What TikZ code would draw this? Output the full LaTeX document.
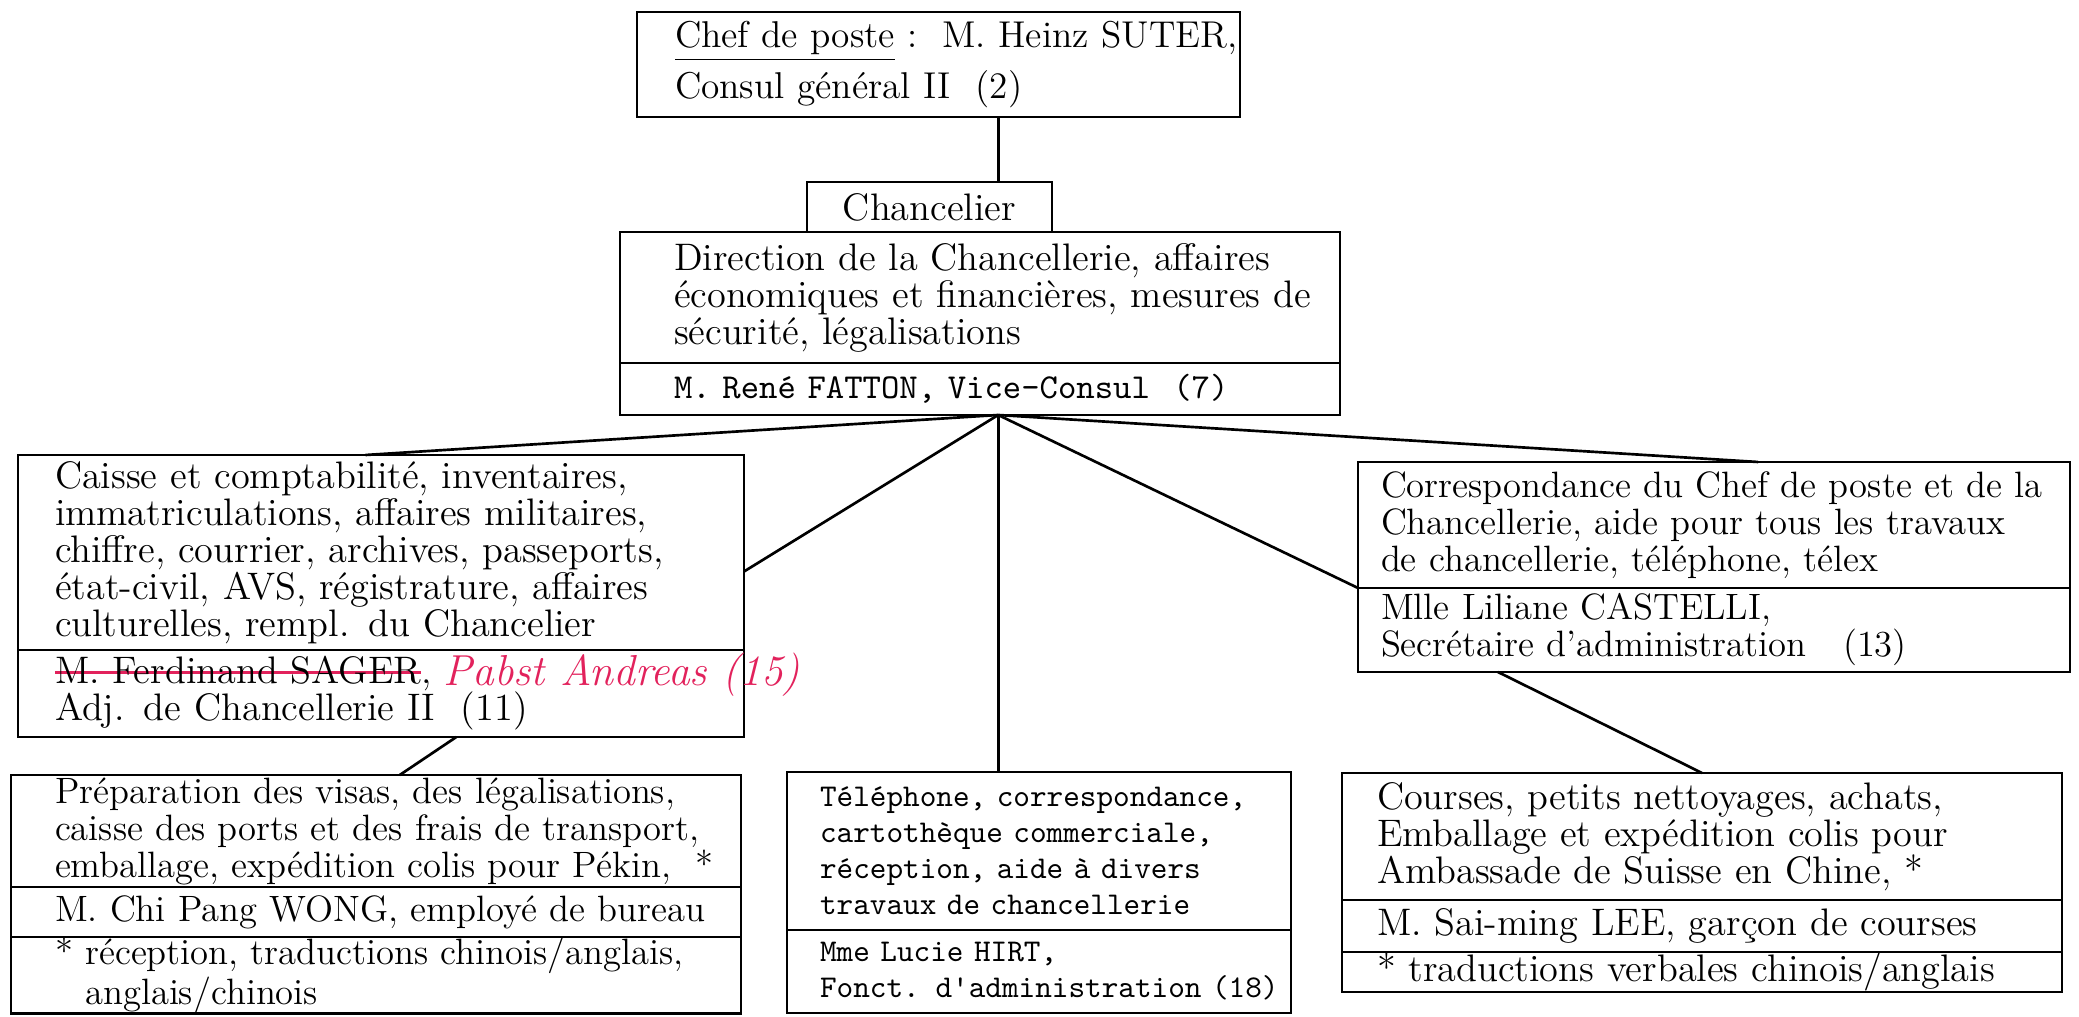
\documentclass[tikz,border=0pt]{standalone}
\usepackage{xcolor}
\usepackage{tikz}
\usetikzlibrary{positioning}

\definecolor{penred}{RGB}{226,34,92}
\newlength{\strikelen}
\newcommand{\strikered}[1]{\settowidth{\strikelen}{#1}\rlap{\textcolor{penred}{\rule[0.6ex]{\strikelen}{0.8pt}}}#1}

\begin{document}
\begin{tikzpicture}[x=0.3pt, y=-0.3pt, node distance=0pt,
    box/.style={draw, line width=0.8pt, outer sep=0pt, inner xsep=0pt, inner ysep=0pt,
        align=left, font=\fontsize{11.5}{11.1}\selectfont},
    small/.style={font=\fontsize{11}{11.1}\selectfont},
    textpad/.style={execute at begin node={\leftskip=#1\rightskip=0pt plus 1fil minus 200pt\relax}},
    typed/.style={box, font=\fontsize{9.5}{10.8}\selectfont\ttfamily},
    link/.style={line width=0.8pt}]
    \useasboundingbox (0,0) rectangle (2079,1017);

    % Nodes
    \node[box, font=\fontsize{11.2}{11.1}\selectfont, textpad=11.4pt, text width=180.9pt, minimum height=31.5pt, anchor=north west] (chef) at (637,12)
        {\underline{Chef de poste}\ :\ \ M. Heinz SUTER,\\[1.5pt] Consul général II\ \ (2)};
    \node[box, align=center, minimum width=73.5pt, minimum height=15pt, anchor=north west] (chancelier) at (807,182)
        {Chancelier};
    \node[box, textpad=16.2pt, text width=216pt, minimum height=39.3pt, anchor=north west] (dirdesc) at (620,232)
        {Direction de la Chancellerie, affaires\\ économiques et financières, mesures de\\ sécurité, légalisations};
    \node[typed, font=\fontsize{10.5}{11}\selectfont\ttfamily, textpad=16.2pt, text width=216pt, minimum height=15.6pt, below=of dirdesc] (dirname)
        {M. René FATTON, Vice-Consul\ \ (7)};

    \node[box, textpad=11.1pt, text width=217.8pt, minimum height=58.5pt, anchor=north west] (leftdesc) at (18,455)
        {Caisse et comptabilité, inventaires,\\ immatriculations, affaires militaires,\\ chiffre, courrier, archives, passeports,\\ état-civil, AVS, régistrature, affaires\\ culturelles, rempl. du Chancelier};
    \node[box, textpad=11.1pt, text width=217.8pt, minimum height=26.1pt, below=of leftdesc] (leftname)
        {\strikered{M. Ferdinand SAGER},\\ Adj. de Chancellerie II\ \ (11)};
    \node[text=penred, font=\fontsize{13}{13}\selectfont\itshape] (pabst) at (622,675) {Pabst Andreas (15)};

    \node[box, small, textpad=13.2pt, text width=219pt, minimum height=33.6pt, anchor=north west] (bldesc) at (11,775)
        {Préparation des visas, des légalisations,\\ caisse des ports et des frais de transport,\\ emballage, expédition colis pour Pékin,\ \ *};
    \node[box, small, textpad=13.2pt, text width=219pt, minimum height=15pt, below=of bldesc] (blname)
        {M. Chi Pang WONG, employé de bureau};
    \node[box, font=\fontsize{11}{9.6}\selectfont, textpad=13.2pt, text width=219pt, minimum height=19.8pt, below=of blname] (blfoot)
        {* réception, traductions chinois/anglais,\\ \phantom{*} anglais/chinois};

    \node[typed, textpad=9.9pt, text width=151.2pt, minimum height=47.4pt, anchor=north west] (middesc) at (787,772)
        {Téléphone, correspondance,\\ cartothèque commerciale,\\ réception, aide à divers\\ travaux de chancellerie};
    \node[typed, textpad=9.9pt, text width=151.2pt, minimum height=24.9pt, below=of middesc] (midname)
        {Mme Lucie HIRT,\\ Fonct. d'administration (18)};

    \node[box, small, textpad=6.9pt, text width=213.6pt, minimum height=37.8pt, anchor=north west] (rightdesc) at (1358,462)
        {Correspondance du Chef de poste et de la\\ Chancellerie, aide pour tous les travaux\\ de chancellerie, téléphone, télex};
    \node[box, small, textpad=6.9pt, text width=213.6pt, minimum height=25.2pt, below=of rightdesc] (rightname)
        {Mlle Liliane CASTELLI,\\ Secrétaire d'administration\ \ \ (13)};

    \node[box, textpad=10.5pt, text width=216pt, minimum height=38.1pt, anchor=north west] (brdesc) at (1342,773)
        {Courses, petits nettoyages, achats,\\ Emballage et expédition colis pour\\ Ambassade de Suisse en Chine,\ *};
    \node[box, textpad=10.5pt, text width=216pt, minimum height=15.6pt, below=of brdesc] (brname)
        {M. Sai-ming LEE, garçon de courses};
    \node[box, textpad=10.5pt, text width=216pt, minimum height=12pt, below=of brname] (brfoot)
        {* traductions verbales chinois/anglais};

    % Lines
    \coordinate (fan) at (dirname.-55);
    \draw[link] (chef.south -| fan) -- (chancelier.north -| fan);
    \draw[link] (fan) -- (leftdesc.99);
    \draw[link] (fan) -- (leftdesc.-3);
    \draw[link] (fan) -- (middesc.north -| fan);
    \draw[link] (fan) -- (rightdesc.south west);
    \draw[link] (fan) -- (rightdesc.55);
    \draw[link] (leftname.-30) -- (bldesc.67);
    \draw[link] (rightname.191) -- (brdesc.north);
\end{tikzpicture}
\end{document}
